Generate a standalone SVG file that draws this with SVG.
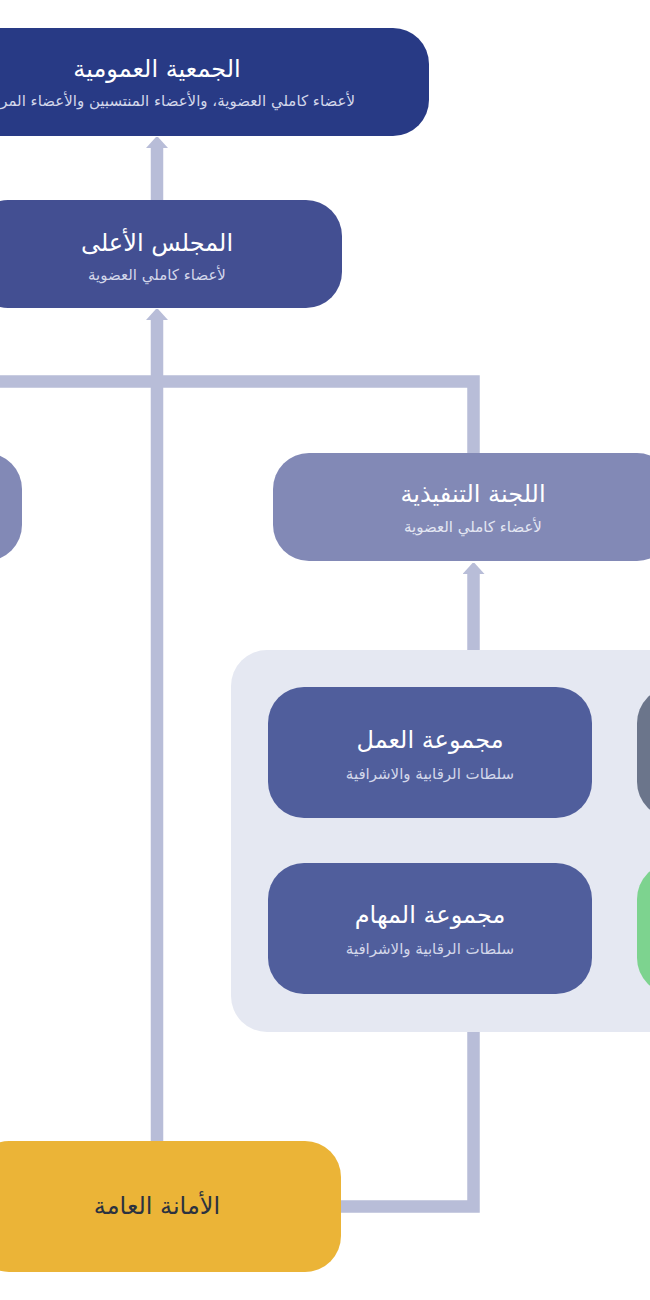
<svg xmlns="http://www.w3.org/2000/svg" width="650" height="1300" viewBox="0 0 650 1300">
<style>
.t{font-family:"DejaVu Sans",sans-serif;text-anchor:middle;fill:#ffffff;font-size:24px}
.s{font-family:"DejaVu Sans",sans-serif;text-anchor:middle;fill:#d3d7ea;font-size:15px}
.c{fill:none;stroke:#b8bdd8;stroke-width:12.5;stroke-linejoin:miter}
</style>
<defs>
<marker id="ah" markerUnits="userSpaceOnUse" viewBox="0 -11 11 22" refX="0" refY="0" markerWidth="11" markerHeight="22" orient="auto">
<path d="M0,-11 L11,-1 L11,1 L0,11 z" fill="#b8bdd8"/>
</marker>
</defs>
<rect width="650" height="1300" fill="#ffffff"/>
<g id="container">
<rect x="231" y="650" width="460" height="382" rx="36" fill="#e5e8f2"/>
</g>
<g id="connectors">
<path class="c" d="M157,200 V148" marker-end="url(#ah)"/>
<path class="c" d="M157,1141 V320" marker-end="url(#ah)"/>
<path class="c" d="M-10,381.5 H473.5 V453"/>
<path class="c" d="M473.5,650 V574" marker-end="url(#ah)"/>
<path class="c" d="M473.5,1032 V1206.5 H340"/>
</g>
<g id="general-assembly">
<rect x="-115" y="28" width="544" height="108" rx="36" fill="#283a85"/>
<text class="t" x="157" y="77">الجمعية العمومية</text>
<text class="s" x="355" y="106" style="text-anchor:start" direction="rtl">لأعضاء كاملي العضوية، والأعضاء المنتسبين والأعضاء المراقبين</text>
</g>
<g id="supreme-council">
<rect x="-28" y="200" width="370" height="108" rx="36" fill="#434f92"/>
<text class="t" x="157" y="251">المجلس الأعلى</text>
<text class="s" x="157" y="280">لأعضاء كاملي العضوية</text>
</g>
<g id="left-node">
<rect x="-300" y="453" width="322" height="108" rx="36" fill="#8289b6"/>
</g>
<g id="executive-committee">
<rect x="273" y="453" width="400" height="108" rx="36" fill="#8289b6"/>
<text class="t" x="473" y="502">اللجنة التنفيذية</text>
<text class="s" x="473" y="532" style="fill:#e3e6f2">لأعضاء كاملي العضوية</text>
</g>
<g id="working-group">
<rect x="268" y="687" width="324" height="131" rx="36" fill="#505e9c"/>
<text class="t" x="430" y="748">مجموعة العمل</text>
<text class="s" x="430" y="779">سلطات الرقابية والاشرافية</text>
</g>
<g id="tasks-group">
<rect x="268" y="863" width="324" height="131" rx="36" fill="#505e9c"/>
<text class="t" x="430" y="923">مجموعة المهام</text>
<text class="s" x="430" y="954">سلطات الرقابية والاشرافية</text>
</g>
<g id="gray-node">
<rect x="637" y="687" width="324" height="131" rx="36" fill="#6b758b"/>
</g>
<g id="green-node">
<rect x="637" y="863" width="324" height="131" rx="36" fill="#7dd38f"/>
</g>
<g id="general-secretariat">
<rect x="-27" y="1141" width="368" height="131" rx="36" fill="#ebb437"/>
<text class="t" x="157" y="1214" style="fill:#2b3240">الأمانة العامة</text>
</g>
</svg>
